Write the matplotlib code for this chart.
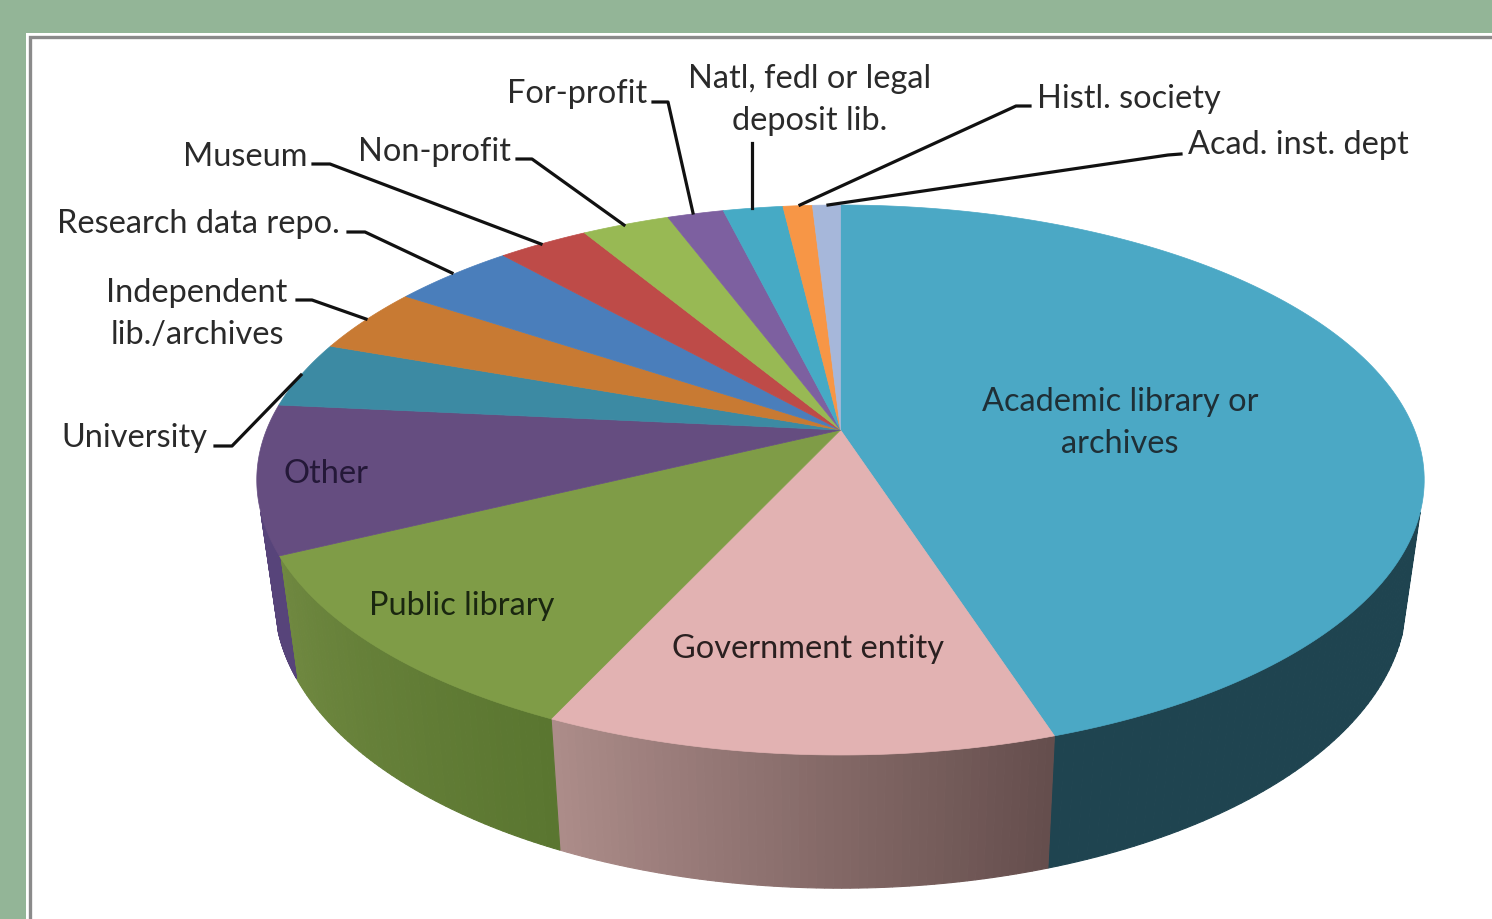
import numpy as np
import matplotlib
matplotlib.use("Agg")
import matplotlib.pyplot as plt
from matplotlib.patches import Polygon, Rectangle
from matplotlib.colors import to_rgb

plt.rcParams['font.family'] = ['Lato', 'DejaVu Sans']

categories = ["Academic library or\narchives", "Government entity", "Public library", "Other",
              "University", "Independent\nlib./archives", "Research data repo.", "Museum",
              "Non-profit", "For-profit", "Natl, fedl or legal\ndeposit lib.", "Histl. society",
              "Acad. inst. dept"]
shares = [45.0, 11.9, 10.9, 8.7, 3.9, 3.9, 4.05, 3.0, 2.9, 1.86, 1.97, 0.97, 0.92]

top_colors = ["#4BA8C5", "#E2B2B2", "#7F9C47", "#654D80", "#3C8AA3", "#C87A33", "#4A7EBB",
              "#BE4B48", "#98B954", "#7D60A0", "#46AAC5", "#F79646", "#A6B7DA"]
wall_left = {0: "#1F4450", 1: "#AC8C89", 2: "#6F8840", 3: "#57447A"}
wall_right = {0: "#1F4450", 1: "#654E4D", 2: "#5A7630", 3: "#57447A"}

# label layout: (x, y, ha)
label_pos = [(1120, 423, "center"), (808, 649, "center"), (462, 606, "center"), (326, 474, "center"),
             (207, 438, "right"), (197, 314, "center"), (340, 224, "right"), (307, 157, "right"),
             (511, 152, "right"), (647, 94, "right"), (810, 100, "center"), (1037, 99, "left"),
             (1188, 145, "left")]
label_colors = ["#1F2F36", "#2A2020", "#1A2610", "#241838"] + ["#2A2A2A"] * 9

leaders = [None, None, None, None,
           [(215, 446), (232, 446), (301, 375)],
           [(297, 300), (312, 300), (366, 319)],
           [(348, 232), (365, 232), (452, 273)],
           [(313, 164), (330, 164), (541, 244)],
           [(517, 159), (532, 159), (624, 225)],
           [(653, 102), (668, 102), (693, 213)],
           [(752, 143), (752, 208)],
           [(1030, 106), (1016, 106), (800, 205)],
           [(1181, 154), (1168, 155), (828, 205)]]

K = 0.1818
CX = 840.5
TOP = dict(a=265.9, b=574.0, y0=430.0)
BOTTOM = dict(a=280.0, b=556.5, y0=546.0)
WALL_START, WALL_END = 107.0, 253.0


def project(theta_deg, g):
    t = np.radians(np.asarray(theta_deg, dtype=float))
    u, v = np.sin(t), np.cos(t)
    d = 1 + K * v
    return np.column_stack([CX + g["b"] * u / d, g["y0"] - g["a"] * v / d])


fig = plt.figure(figsize=(14.92, 9.19), dpi=100, facecolor="#93B597")
ax = fig.add_axes([0, 0, 1, 1])
ax.set_xlim(0, 1492)
ax.set_ylim(919, 0)
ax.axis("off")

# panel
ax.add_patch(Rectangle((26, 33), 1480, 900, fc="white", ec="none", zorder=0))
ax.add_patch(Rectangle((30, 37), 1480, 900, fc="white", ec="#8A8A8A", lw=2.4, zorder=0.5))

edges = np.concatenate([[0], np.cumsum(shares)]) / np.sum(shares) * 360.0

# side walls
for i, (a0, a1) in enumerate(zip(edges[:-1], edges[1:])):
    lo, hi = max(a0, WALL_START), min(a1, WALL_END)
    if lo >= hi or i not in wall_left:
        continue
    c_hi = np.array(to_rgb(wall_left[i]))
    c_lo = np.array(to_rgb(wall_right[i]))
    ts = np.linspace(lo, hi, 61)
    for j, (t0, t1) in enumerate(zip(ts[:-1], ts[1:])):
        f = j / 59
        col = c_lo * (1 - f) + c_hi * f
        tt = np.array([t0, t1])
        pts = np.vstack([project(tt, TOP), project(tt[::-1], BOTTOM)])
        ax.add_patch(Polygon(pts, closed=True, fc=col, ec=col, lw=0.8, zorder=1))

# top faces
for i, (a0, a1) in enumerate(zip(edges[:-1], edges[1:])):
    arc = project(np.linspace(a0, a1, 160), TOP)
    pts = np.vstack([[CX, TOP["y0"]], arc])
    ax.add_patch(Polygon(pts, closed=True, fc=top_colors[i], ec=top_colors[i], lw=0.5,
                         zorder=2 + i * 0.01))

# labels and leaders
for i, name in enumerate(categories):
    x, y, ha = label_pos[i]
    ax.text(x, y, name, ha=ha, va="center", fontsize=23.4, color=label_colors[i],
            linespacing=1.5, multialignment="center", zorder=5)
    if leaders[i] is not None:
        xs, ys = zip(*leaders[i])
        ax.plot(xs, ys, color="#111111", lw=2.3, solid_joinstyle="round", zorder=4)

fig.savefig("out.png", dpi=100, facecolor=fig.get_facecolor())
